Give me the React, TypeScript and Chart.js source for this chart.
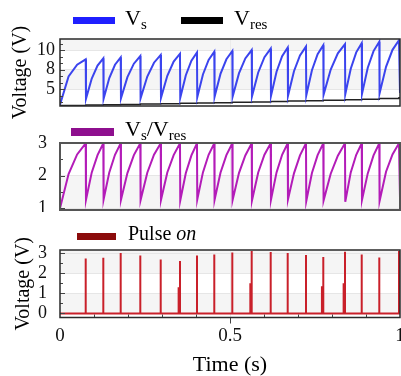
import React, { useEffect, useRef } from 'react';
import { Chart, registerables } from 'chart.js';
Chart.register(...registerables);

// ---------- data ----------
const DROP_T = [0.0756, 0.1274, 0.1785, 0.2362, 0.2962, 0.3529, 0.4029, 0.4538, 0.5068, 0.5638, 0.6197, 0.6697, 0.7235, 0.7744, 0.8382, 0.8874, 0.9391, 0.997];

const VS_START = 4.4;
const VS_MID1 = [7.3, 7.08, 7.13, 7.22, 7.28, 7.36, 7.42, 7.49, 7.55, 7.6, 7.7, 7.78, 7.83, 7.93, 8.0, 8.08, 8.18, 8.28];
const VS_MID2 = [8.5, 8.4, 8.49, 8.6, 8.7, 8.81, 8.9, 8.98, 9.05, 9.14, 9.27, 9.36, 9.44, 9.57, 9.66, 9.76, 9.89, 10.02];
const VS_PEAKS = [9.05, 9.15, 9.25, 9.38, 9.5, 9.62, 9.74, 9.82, 9.9, 10.0, 10.15, 10.25, 10.35, 10.5, 10.6, 10.7, 10.85, 11.0];
const VS_DIPS = [5.0, 5.0, 5.05, 5.05, 5.1, 5.1, 5.15, 5.2, 5.2, 5.25, 5.3, 5.3, 5.35, 5.4, 5.45, 5.5, 5.55, 5.6];
const VRES_LEVELS = [4.3, 4.35, 4.38, 4.42, 4.46, 4.5, 4.53, 4.57, 4.6, 4.64, 4.68, 4.72, 4.76, 4.8, 4.85, 4.9, 4.95, 5.02, 5.1];

const RATIO_START = 1.0;
const RATIO_MID1 = [2.05, 2.1, 2.1, 2.08, 2.09, 2.1, 2.08, 2.1, 2.09, 2.08, 2.1, 2.1, 2.07, 2.08, 2.06, 2.1, 2.07, 2.12];
const RATIO_MID2 = [2.65, 2.63, 2.64, 2.63, 2.64, 2.63, 2.62, 2.64, 2.63, 2.62, 2.64, 2.64, 2.62, 2.63, 2.61, 2.64, 2.62, 2.65];
const RATIO_PEAKS = [2.99, 2.99, 2.99, 2.99, 2.99, 2.99, 2.99, 2.99, 2.99, 2.99, 2.99, 2.99, 2.99, 2.99, 2.99, 2.99, 2.99, 2.99];
const RATIO_DIPS = [1.26, 1.27, 1.26, 1.25, 1.26, 1.24, 1.27, 1.26, 1.25, 1.24, 1.26, 1.27, 1.22, 1.24, 1.2, 1.26, 1.22, 1.33];

const PULSE_H = [2.73, 2.77, 3.0, 2.88, 2.68, 2.6, 2.88, 2.93, 3.03, 3.1, 3.05, 3.0, 2.9, 2.8, 3.06, 2.93, 2.78, 3.1];
const PULSE_SUB = [0, 0, 0, 0, 0, 1.3, 0, 0, 0, 1.5, 0, 0, 0, 1.35, 1.5, 0, 0, 0];

const X_TICKS = [0, 0.5, 1];
const X_TICK_LABELS = ['0', '0.5', '1'];
const VS_TICKS = [6, 8, 10];
const VS_TICK_LABELS = ['5', '8', '10'];
const RATIO_TICKS = [1, 2, 3];
const RATIO_TICK_LABELS = ['1', '2', '3'];
const PULSE_TICKS = [0, 1, 2, 3];
const PULSE_TICK_LABELS = ['0', '1', '2', '3'];

// ---------- builders ----------
function sawtooth(start: number, mid1: number[], mid2: number[], peaks: number[], dips: number[]) {
  const pts: { x: number; y: number }[] = [{ x: 0, y: start }];
  let t0 = 0;
  for (let i = 0; i < DROP_T.length; i++) {
    const t1 = DROP_T[i];
    const dt = t1 - t0;
    pts.push({ x: t0 + dt / 3, y: mid1[i] });
    pts.push({ x: t0 + (2 * dt) / 3, y: mid2[i] });
    pts.push({ x: t1, y: peaks[i] });
    const tn = i === DROP_T.length - 1 ? 1 : t1 + 0.0008;
    pts.push({ x: tn, y: dips[i] });
    t0 = tn;
  }
  return pts;
}

function vresPoints() {
  const pts = [{ x: 0, y: VRES_LEVELS[0] }];
  DROP_T.forEach((t, i) => pts.push({ x: t, y: VRES_LEVELS[i + 1] }));
  pts.push({ x: 1, y: VRES_LEVELS[VRES_LEVELS.length - 1] });
  return pts;
}

function pulsePoints() {
  const pts = [{ x: 0, y: 0 }];
  DROP_T.forEach((t, i) => {
    if (PULSE_SUB[i] > 0) {
      const ts = t - 0.004;
      pts.push({ x: ts, y: 0 }, { x: ts, y: PULSE_SUB[i] }, { x: ts, y: 0 });
    }
    pts.push({ x: t, y: 0 }, { x: t, y: PULSE_H[i] }, { x: t, y: 0 });
  });
  pts.push({ x: 1, y: 0 });
  return pts;
}

const SERIF = "'Liberation Serif', 'DejaVu Serif', serif";

const framePlugin = {
  id: 'frame',
  beforeDraw(chart: any, _a: any, o: any) {
    const { ctx, chartArea: a, scales } = chart;
    const y = scales.y;
    ctx.save();
    ctx.fillStyle = '#f5f5f5';
    for (const [lo, hi] of o.bands || []) {
      const p1 = y.getPixelForValue(hi);
      const p2 = y.getPixelForValue(lo);
      const top = Math.max(a.top, Math.min(p1, p2));
      const bot = Math.min(a.bottom, Math.max(p1, p2));
      if (bot > top) ctx.fillRect(a.left, top, a.right - a.left, bot - top);
    }
    ctx.restore();
  },
  afterDraw(chart: any, _a: any, o: any) {
    const { ctx, chartArea: a, scales } = chart;
    const y = scales.y;
    const x = scales.x;
    ctx.save();
    ctx.strokeStyle = '#444';
    ctx.lineWidth = 1;
    const major: number[] = o.yMajor;
    const step: number = o.yMinorStep;
    const base = major[major.length - 1];
    for (let k = -20; k <= 20; k++) {
      const v = base + k * step;
      if (v < y.min || v > y.max) continue;
      const p = Math.round(y.getPixelForValue(v)) + 0.5;
      const isMajor = major.some((m) => Math.abs(m - v) < 1e-6);
      ctx.beginPath();
      ctx.moveTo(a.left, p);
      ctx.lineTo(a.left + (isMajor ? 5 : 3), p);
      ctx.stroke();
    }
    if (o.xTicks) {
      for (let k = 1; k < 10; k++) {
        const v = k / 10;
        const p = Math.round(x.getPixelForValue(v)) + 0.5;
        ctx.beginPath();
        if (k === 5) {
          ctx.moveTo(p, a.bottom);
          ctx.lineTo(p, a.bottom + 6);
        } else {
          ctx.moveTo(p, a.bottom);
          ctx.lineTo(p, a.bottom - 3);
        }
        ctx.stroke();
      }
    }
    ctx.strokeStyle = o.borderColor;
    ctx.lineWidth = o.borderWidth;
    ctx.strokeRect(a.left, a.top, a.right - a.left, a.bottom - a.top);
    ctx.restore();
  },
};

function zeroPad(s: any) {
  s.paddingLeft = 0;
  s.paddingRight = 0;
  s.paddingTop = 0;
  s.paddingBottom = 0;
}

function yAxis(min: number, max: number, ticks: number[], labels: string[], pad: number, title: string | null, titlePad: number) {
  return {
    type: 'linear',
    min,
    max,
    afterBuildTicks: (s: any) => {
      s.ticks = ticks.map((v) => ({ value: v }));
    },
    afterFit: (s: any) => {
      s.width = 60;
      zeroPad(s);
    },
    ticks: {
      callback: (_v: any, i: number) => labels[i],
      font: { family: SERIF, size: 18 },
      color: '#111',
      padding: pad,
      autoSkip: false,
    },
    grid: { color: '#e6e6e6', drawTicks: false },
    border: { display: false },
    title: title
      ? { display: true, text: title, font: { family: SERIF, size: 20 }, color: '#000', padding: { top: titlePad, bottom: 0 } }
      : { display: false },
  };
}

function xAxisHidden() {
  return {
    type: 'linear',
    min: 0,
    max: 1,
    afterBuildTicks: (s: any) => {
      s.ticks = X_TICKS.map((v) => ({ value: v }));
    },
    afterFit: (s: any) => {
      s.height = 0;
      zeroPad(s);
    },
    ticks: { display: false },
    grid: { drawTicks: false, color: (c: any) => (c.tick && c.tick.value === 0.5 ? '#ebebeb' : 'rgba(0,0,0,0)') },
    border: { display: false },
  };
}

function baseOptions(padding: any, x: any, y: any, frame: any) {
  return {
    animation: false,
    responsive: false,
    maintainAspectRatio: false,
    layout: { padding },
    plugins: { legend: { display: false }, tooltip: { enabled: false }, frame },
    elements: { point: { radius: 0 }, line: { tension: 0 } },
    scales: { x, y },
  };
}

export default function App() {
  const r1 = useRef<HTMLCanvasElement>(null);
  const r2 = useRef<HTMLCanvasElement>(null);
  const r3 = useRef<HTMLCanvasElement>(null);

  useEffect(() => {
    const c1 = new Chart(r1.current as HTMLCanvasElement, {
      type: 'line',
      data: {
        datasets: [
          { label: 'Vs', data: sawtooth(VS_START, VS_MID1, VS_MID2, VS_PEAKS, VS_DIPS), borderColor: '#3b44ee', borderWidth: 2 },
          { label: 'Vres', data: vresPoints(), borderColor: '#222', borderWidth: 1.5, stepped: 'before' },
        ],
      },
      options: baseOptions(
        { top: 39, bottom: 34, left: 0, right: 1 },
        xAxisHidden(),
        yAxis(4.26, 11.13, VS_TICKS, VS_TICK_LABELS, 5, 'Voltage (V)', 9),
        { bands: [[10, 12], [6, 8]], yMajor: VS_TICKS, yMinorStep: 2 / 3, borderColor: '#2a2a2a', borderWidth: 1.5 }
      ) as any,
      plugins: [framePlugin as any],
    });

    const c2 = new Chart(r2.current as HTMLCanvasElement, {
      type: 'line',
      data: {
        datasets: [
          { label: 'Vs/Vres', data: sawtooth(RATIO_START, RATIO_MID1, RATIO_MID2, RATIO_PEAKS, RATIO_DIPS), borderColor: '#b31cb8', borderWidth: 2 },
        ],
      },
      options: baseOptions(
        { top: 31, bottom: 2, left: 0, right: 1 },
        xAxisHidden(),
        yAxis(0.95, 3.0, RATIO_TICKS, RATIO_TICK_LABELS, 13, null, 0),
        { bands: [[0, 2]], yMajor: RATIO_TICKS, yMinorStep: 0.5, borderColor: '#555', borderWidth: 2 }
      ) as any,
      plugins: [framePlugin as any],
    });

    const c3 = new Chart(r3.current as HTMLCanvasElement, {
      type: 'line',
      data: {
        datasets: [{ label: 'Pulse on', data: pulsePoints(), borderColor: '#c9202a', borderWidth: 2 }],
      },
      options: baseOptions(
        { top: 38, bottom: 0, left: 0, right: 1 },
        {
          type: 'linear',
          min: 0,
          max: 1,
          afterBuildTicks: (s: any) => {
            s.ticks = X_TICKS.map((v) => ({ value: v }));
          },
          afterFit: (s: any) => {
            s.height = 58.5;
            zeroPad(s);
          },
          ticks: {
            callback: (_v: any, i: number) => X_TICK_LABELS[i],
            font: { family: SERIF, size: 19 },
            color: '#111',
            padding: 7.5,
            maxRotation: 0,
            autoSkip: false,
          },
          grid: { drawTicks: false, color: (c: any) => (c.tick && c.tick.value === 0.5 ? '#ebebeb' : 'rgba(0,0,0,0)') },
          border: { display: false },
          title: {
            display: true,
            text: 'Time (s)',
            font: { family: SERIF, size: 22, lineHeight: 1 },
            color: '#000',
            padding: { top: 0, bottom: 0 },
          },
        },
        yAxis(-0.2, 3.15, PULSE_TICKS, PULSE_TICK_LABELS, 13, 'Voltage (V)', 12),
        { bands: [[2, 4], [0, 1]], yMajor: PULSE_TICKS, yMinorStep: 0.5, borderColor: '#2a2a2a', borderWidth: 1.5, xTicks: true }
      ) as any,
      plugins: [framePlugin as any],
    });

    return () => {
      c1.destroy();
      c2.destroy();
      c3.destroy();
    };
  }, []);

  const box = (x: number, y: number, w: number, h: number, color: string) => (
    <div style={{ position: 'absolute', left: x, top: y, width: w, height: h, background: color }} />
  );
  const text = (x: number, y: number, size: number, children: React.ReactNode) => (
    <div style={{ position: 'absolute', left: x, top: y, fontSize: size, lineHeight: 1, whiteSpace: 'nowrap', color: '#000' }}>
      {children}
    </div>
  );
  const sub = (s: string) => <span style={{ fontSize: 15, position: 'relative', top: 4 }}>{s}</span>;

  return (
    <div
      style={{
        position: 'absolute',
        left: 0,
        top: 0,
        width: 401,
        height: 376,
        background: '#fff',
        overflow: 'hidden',
        fontFamily: SERIF,
      }}
    >
      <canvas ref={r1} width={401} height={140} style={{ position: 'absolute', left: 0, top: 0, width: 401, height: 140 }} />
      <canvas ref={r2} width={401} height={100} style={{ position: 'absolute', left: 0, top: 112, width: 401, height: 100 }} />
      <canvas ref={r3} width={401} height={164} style={{ position: 'absolute', left: 0, top: 212, width: 401, height: 164 }} />

      {box(73, 17, 42, 7, '#1f1fff')}
      {text(125, 7, 22, <>V{sub('s')}</>)}
      {box(181, 17, 42, 7, '#000')}
      {text(234, 7, 22, <>V{sub('res')}</>)}

      {box(71, 128, 43, 8, '#8e0f8e')}
      {text(125, 118, 22, <>V{sub('s')}/V{sub('res')}</>)}

      {box(77, 233, 39, 7, '#8b0b0b')}
      {text(128, 223, 20, <>Pulse <i>on</i></>)}
    </div>
  );
}
